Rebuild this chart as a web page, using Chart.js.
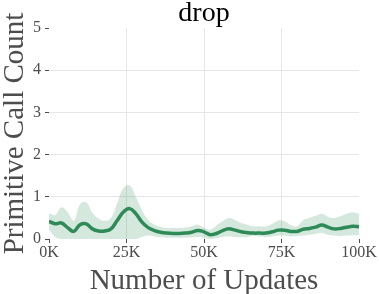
<!DOCTYPE html>
<html>
<head>
<meta charset="utf-8">
<script src="https://cdn.jsdelivr.net/npm/chart.js@4/dist/chart.umd.min.js"></script>
<style>
  html, body { margin: 0; padding: 0; background: #ffffff; }
  #wrap { width: 379px; height: 294px; position: relative; }
</style>
</head>
<body>
<div id="wrap"><canvas id="dropChart"></canvas></div>
<script>
// number of updates (x positions), every 2K
const updates = [
    0, 2000, 4000, 6000, 8000, 10000, 12000, 14000, 16000, 18000,
    20000, 22000, 24000, 26000, 28000, 30000, 32000, 34000, 36000, 38000,
    40000, 42000, 44000, 46000, 48000, 50000, 52000, 54000, 56000, 58000,
    60000, 62000, 64000, 66000, 68000, 70000, 72000, 74000, 76000, 78000,
    80000, 82000, 84000, 86000, 88000, 90000, 92000, 94000, 96000, 98000,
    100000
];

// mean primitive call count
const meanCount = [
    0.42, 0.36, 0.38, 0.27, 0.18, 0.34, 0.36, 0.24, 0.19, 0.19,
    0.24, 0.44, 0.64, 0.72, 0.60, 0.40, 0.27, 0.20, 0.16, 0.14,
    0.13, 0.13, 0.14, 0.16, 0.20, 0.17, 0.10, 0.13, 0.20, 0.24,
    0.21, 0.17, 0.15, 0.14, 0.14, 0.14, 0.17, 0.21, 0.21, 0.18,
    0.18, 0.23, 0.25, 0.28, 0.33, 0.28, 0.24, 0.25, 0.28, 0.30,
    0.29
];

// confidence band
const upperCount = [
    0.61, 0.57, 0.75, 0.64, 0.43, 0.82, 0.87, 0.62, 0.48, 0.43,
    0.50, 0.85, 1.20, 1.27, 1.00, 0.68, 0.45, 0.34, 0.29, 0.26,
    0.26, 0.26, 0.27, 0.30, 0.34, 0.27, 0.22, 0.32, 0.42, 0.50,
    0.45, 0.38, 0.34, 0.30, 0.30, 0.30, 0.36, 0.44, 0.42, 0.33,
    0.30, 0.45, 0.50, 0.55, 0.60, 0.53, 0.50, 0.54, 0.60, 0.63,
    0.60
];
const lowerCount = [
    0.22, 0.05, 0.00, 0.00, 0.00, 0.00, 0.00, 0.00, 0.00, 0.00,
    0.00, 0.00, 0.00, 0.00, 0.00, 0.05, 0.08, 0.06, 0.04, 0.03,
    0.03, 0.03, 0.03, 0.04, 0.05, 0.03, 0.00, 0.02, 0.05, 0.06,
    0.05, 0.04, 0.05, 0.07, 0.06, 0.05, 0.06, 0.08, 0.08, 0.06,
    0.07, 0.08, 0.10, 0.12, 0.14, 0.10, 0.08, 0.07, 0.08, 0.09,
    0.09
];

const xTickLabels = ['0K', '25K', '50K', '75K', '100K'];
const yTicks = [0, 1, 2, 3, 4, 5];

const green     = '#2e8b57';
const bandColor = 'rgba(46,139,87,0.2)';
const gridColor = '#e6e6e6';
const textColor = '#4d4d4d';
const serif     = "'Liberation Serif', 'Times New Roman', serif";

const pts = arr => arr.map((v, i) => ({ x: updates[i], y: v }));

new Chart(document.getElementById('dropChart'), {
    type: 'line',
    data: {
        datasets: [
            {
                label: 'mean',
                data : pts(meanCount),
                xAxisID: 'x',
                yAxisID: 'y',
                borderColor: green,
                borderWidth: 3.5,
                pointRadius: 0,
                tension    : 0.4,
                fill       : false,
                order      : 0,
            },
            {
                label: 'upper',
                data : pts(upperCount),
                xAxisID: 'x',
                yAxisID: 'y',
                borderWidth: 0,
                borderColor: 'rgba(0,0,0,0)',
                backgroundColor: bandColor,
                pointRadius: 0,
                tension    : 0.4,
                fill       : '+1',
                order      : 1,
            },
            {
                label: 'lower',
                data : pts(lowerCount),
                xAxisID: 'x',
                yAxisID: 'y',
                borderWidth: 0,
                borderColor: 'rgba(0,0,0,0)',
                pointRadius: 0,
                tension    : 0.4,
                fill       : false,
                order      : 2,
            }
        ]
    },
    options: {
        responsive: true,
        maintainAspectRatio: false,
        animation: false,
        layout: { padding: { left: 0, right: 20, top: 0, bottom: 0 } },
        plugins: {
            legend : { display: false },
            tooltip: { enabled: false },
            title  : { display: false },
        },
        scales: {
            x: {
                type: 'linear',
                min : 0,
                max : 100000,
                grid: {
                    color: ctx => (ctx.index === 0 || ctx.index === xTickLabels.length - 1) ? 'rgba(0,0,0,0)' : gridColor,
                    tickColor : textColor,
                    tickLength: 4,
                },
                border: { display: false },
                ticks : {
                    stepSize: 25000,
                    color   : textColor,
                    font    : { family: serif, size: 16 },
                    padding : 0,
                    maxRotation: 0,
                    callback: (v) => xTickLabels[v / 25000],
                },
                title: {
                    display: true,
                    text   : 'Number of Updates',
                    color  : textColor,
                    font   : { family: serif, size: 29, lineHeight: 1.0 },
                    padding: { top: 0, bottom: -2 },
                },
                afterFit: scale => { scale.height = 55; },
            },
            // top axis only carries the panel title, centred over the plot
            top: {
                type    : 'linear',
                position: 'top',
                min: 0,
                max: 1,
                grid  : { display: false },
                border: { display: false },
                ticks : { display: false },
                title : {
                    display: true,
                    text   : 'drop',
                    color  : '#000000',
                    font   : { family: serif, size: 28, lineHeight: 1.0 },
                    padding: { top: 0, bottom: 0 },
                },
                afterFit: scale => { scale.height = 28; },
            },
            y: {
                min: 0,
                max: 5,
                grid: {
                    color: ctx => (ctx.index === 0 || ctx.index === yTicks.length - 1) ? 'rgba(0,0,0,0)' : gridColor,
                    tickColor : textColor,
                    tickLength: 4,
                },
                border: { display: false },
                ticks : {
                    stepSize: 1,
                    color   : textColor,
                    font    : { family: serif, size: 16 },
                    padding : 4,
                },
                title: {
                    display: true,
                    text   : 'Primitive Call Count',
                    color  : textColor,
                    font   : { family: serif, size: 29, lineHeight: 1.0 },
                    padding: { top: 1, bottom: 0 },
                },
                afterFit: scale => { scale.width = 49; },
            }
        }
    }
});
</script>
</body>
</html>
